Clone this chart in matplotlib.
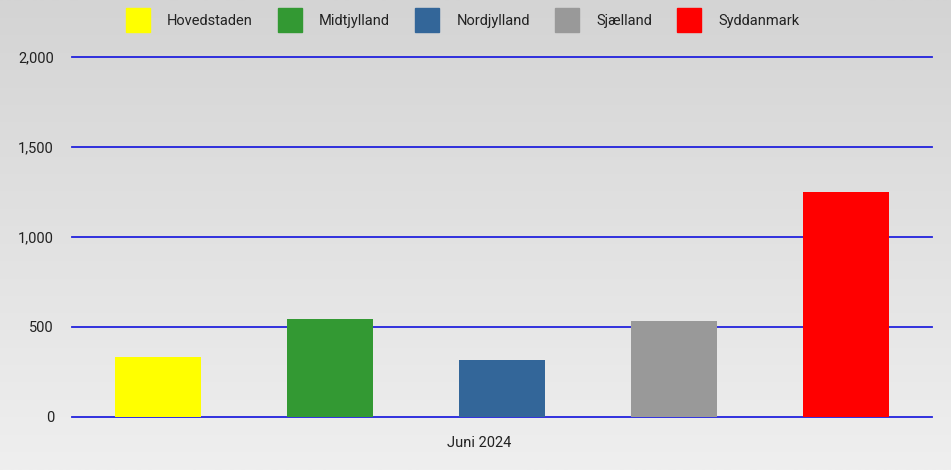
import numpy as np
import matplotlib
matplotlib.use("Agg")
import matplotlib.pyplot as plt
from matplotlib.lines import Line2D
from matplotlib.colors import LinearSegmentedColormap

plt.rcParams['font.family'] = ['Roboto', 'DejaVu Sans']

regions = ["Hovedstaden", "Midtjylland", "Nordjylland", "Sjælland", "Syddanmark"]
values = [333, 544, 317, 533, 1250]
colors = ["#ffff00", "#339933", "#336699", "#999999", "#ff0000"]
category = "Juni 2024"
yticks = [0, 500, 1000, 1500, 2000]
ytick_labels = ["0", "500", "1,000", "1,500", "2,000"]

fig = plt.figure(figsize=(9.51, 4.70), dpi=100)

# background gradient
bg = fig.add_axes([0, 0, 1, 1], zorder=-10)
grad = np.linspace(0, 1, 256).reshape(-1, 1)
cmap = LinearSegmentedColormap.from_list("bg", ["#d4d4d4", "#efefef"])
bg.imshow(grad, aspect="auto", cmap=cmap, extent=[0, 1, 0, 1], origin="upper")
bg.axis("off")

ax = fig.add_axes([72/951, 1-417/470, 860/951, 360/470])
ax.patch.set_alpha(0)
x = np.arange(len(regions))
ax.bar(x, values, width=0.5, color=colors, zorder=3)
ax.set_xlim(-0.5, len(regions)-0.5)
ax.set_ylim(0, 2000)
ax.set_yticks(yticks)
ax.set_yticklabels(ytick_labels)
for yv in yticks:
    ax.axhline(yv, color="#2222dd", lw=1.3, zorder=2, clip_on=False)
ax.set_xticks([1.87])
ax.set_xticklabels([category])
for s in ax.spines.values():
    s.set_visible(False)
ax.tick_params(axis="both", length=0, labelsize=10.5, colors="#222222")
ax.tick_params(axis="y", pad=13)
ax.tick_params(axis="x", pad=14)

handles = [Line2D([], [], marker="s", linestyle="none", markersize=17,
                  markerfacecolor=c, markeredgecolor=c) for c in colors]
leg = fig.legend(handles, regions, loc="upper center", bbox_to_anchor=(0.485, 0.992),
                 ncol=5, frameon=False, fontsize=10.5, handletextpad=1.0,
                 columnspacing=1.55, labelcolor="#222222", borderaxespad=0.3)

fig.savefig("out.png", dpi=100)
